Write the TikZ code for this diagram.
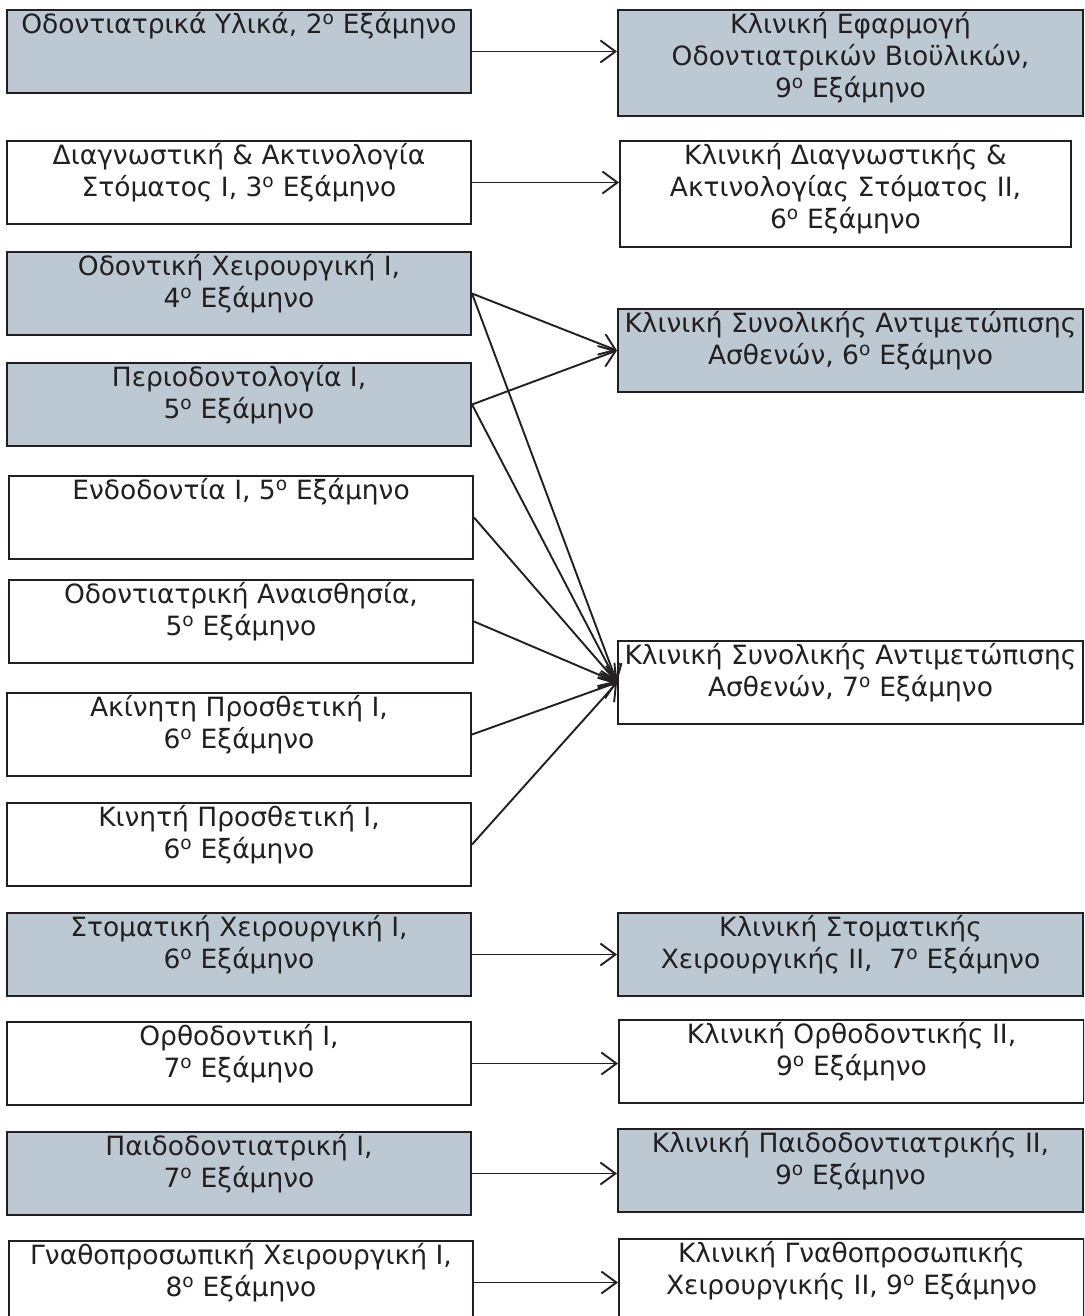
\documentclass[tikz,border=0pt]{standalone}
\usepackage{fontspec}
\setmainfont{DejaVu Sans}
\usetikzlibrary{arrows.meta}

\definecolor{panel}{RGB}{189,201,210}
\definecolor{edge}{RGB}{35,31,32}

\newcommand{\sem}[1]{#1\textsuperscript{ο}}

\tikzset{
  course/.style 2 args={draw=edge, line width=2pt, inner sep=0pt,
    anchor=north west, text=edge, font=\fontsize{26.5}{32}\selectfont,
    execute at begin node={\begin{minipage}[t][#2][t]{#1}\centering\vspace{1pt}\strut},
    execute at end node={\end{minipage}}},
  lbox/.style={course={464pt}{83pt}},
  rbox/.style={course={465pt}{83pt}},
  shaded/.style={fill=panel},
  link/.style={draw=edge, line width=1.9pt, -{Straight Barb[length=15pt,width=22pt]}}
}

\begin{document}
\begin{tikzpicture}[x=1pt,y=-1pt]

\useasboundingbox (0,0) rectangle (1084,1316);
\clip (0,0) rectangle (1084,1316);

% left column
\node[lbox, shaded] (yl)  at (6,9)    {Οδοντιατρικά Υλικά, \sem{2} Εξάμηνο};
\node[lbox]         (diag) at (6,140) {Διαγνωστική \& Ακτινολογία\\Στόματος I, \sem{3} Εξάμηνο};
\node[lbox, shaded] (xeir) at (6,251) {Οδοντική Χειρουργική I,\\\sem{4} Εξάμηνο};
\node[lbox, shaded] (per)  at (6,362) {Περιοδοντολογία I,\\\sem{5} Εξάμηνο};
\node[lbox]         (end)  at (8,475) {Ενδοδοντία I, \sem{5} Εξάμηνο};
\node[lbox]         (anais) at (8,579) {Οδοντιατρική Αναισθησία,\\\sem{5} Εξάμηνο};
\node[lbox]         (akin) at (6,692) {Ακίνητη Προσθετική I,\\\sem{6} Εξάμηνο};
\node[lbox]         (kin)  at (6,802) {Κινητή Προσθετική I,\\\sem{6} Εξάμηνο};
\node[lbox, shaded] (stom) at (6,912) {Στοματική Χειρουργική I,\\\sem{6} Εξάμηνο};
\node[lbox]         (orth) at (6,1021) {Ορθοδοντική I,\\\sem{7} Εξάμηνο};
\node[lbox, shaded] (paid) at (6,1131) {Παιδοδοντιατρική I,\\\sem{7} Εξάμηνο};
\node[lbox]         (gnath) at (8,1240) {Γναθοπροσωπική Χειρουργική I,\\\sem{8} Εξάμηνο};

% right column
\node[course={465pt}{106pt}, shaded] (kyl) at (617,9) {Κλινική Εφαρμογή\\Οδοντιατρικών Βιοϋλικών,\\\sem{9} Εξάμηνο};
\node[course={451pt}{106pt}] (kdiag) at (619,140) {Κλινική Διαγνωστικής \&\\Ακτινολογίας Στόματος II,\\\sem{6} Εξάμηνο};
\node[rbox, shaded] (ksa6) at (617,308) {Κλινική Συνολικής Αντιμετώπισης\\Ασθενών, \sem{6} Εξάμηνο};
\node[rbox]         (ksa7) at (617,640) {Κλινική Συνολικής Αντιμετώπισης\\Ασθενών, \sem{7} Εξάμηνο};
\node[rbox, shaded] (kstom) at (617,912) {Κλινική Στοματικής\\Χειρουργικής II,\ \ \sem{7} Εξάμηνο};
\node[rbox]         (korth) at (618,1019) {Κλινική Ορθοδοντικής II,\\\sem{9} Εξάμηνο};
\node[rbox, shaded] (kpaid) at (617,1128) {Κλινική Παιδοδοντιατρικής II,\\\sem{9} Εξάμηνο};
\node[rbox]         (kgnath) at (618,1238) {Κλινική Γναθοπροσωπικής\\Χειρουργικής II, \sem{9} Εξάμηνο};

% straight links
\draw[link] (yl.east) -- (yl.east -| kyl.west);
\draw[link] (diag.east) -- (diag.east -| kdiag.west);
\draw[link] (stom.east) -- (stom.east -| kstom.west);
\draw[link] (orth.east) -- (orth.east -| korth.west);
\draw[link] (paid.east) -- (paid.east -| kpaid.west);
\draw[link] (gnath.east) -- (gnath.east -| kgnath.west);

% into the 6th semester clinic
\draw[link] (xeir.east) -- (ksa6.west);
\draw[link] (per.east) -- (ksa6.west);

% into the 7th semester clinic
\draw[link] (xeir.east) -- (ksa7.west);
\draw[link] (per.east) -- (ksa7.west);
\draw[link] (end.east) -- (ksa7.west);
\draw[link] (anais.east) -- (ksa7.west);
\draw[link] (akin.east) -- (ksa7.west);
\draw[link] (kin.east) -- (ksa7.west);

\end{tikzpicture}
\end{document}
